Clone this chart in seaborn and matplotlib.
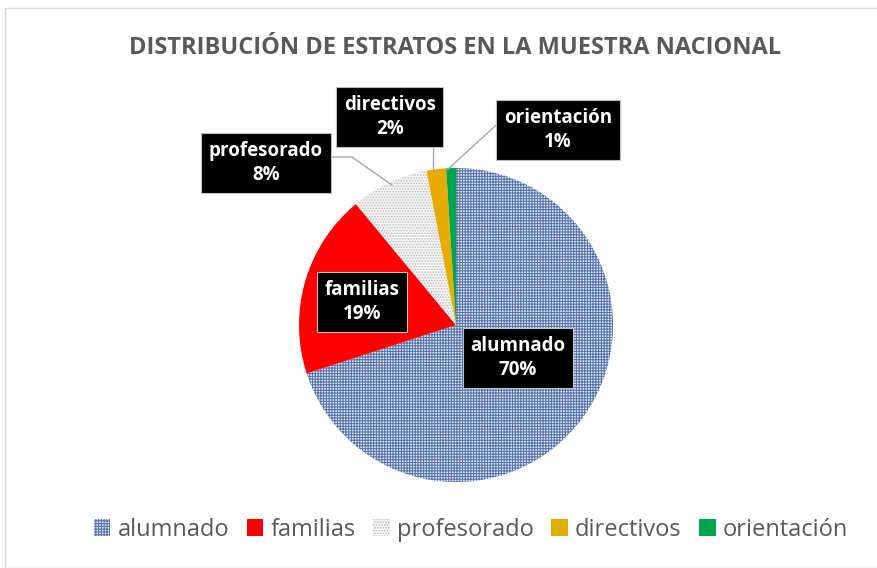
import seaborn as sns
import matplotlib.pyplot as plt
from matplotlib.patches import Rectangle, Patch

sns.set_theme(style="white")
plt.rcParams['font.family'] = ['Open Sans', 'DejaVu Sans']
plt.rcParams['hatch.linewidth'] = 0.75

# datos
estratos = ["alumnado", "familias", "profesorado", "directivos", "orientación"]
porcentajes = [70, 19, 8, 2, 1]

colores = ["#e2e8f4", "#ff0000", "#f4f4f4", "#e6ac00", "#00a550"]
hatches = ["++++++", "", "......", "", ""]
hatch_col = ["#5573ab", "#ff0000", "#bdbdbd", "#e6ac00", "#00a550"]

fig = plt.figure(figsize=(8.78, 5.68), dpi=100)
fig.patch.set_facecolor("white")
# borde del área del gráfico
fig.add_artist(Rectangle((5 / 878, 0.0), 1.0, 1 - 8 / 568, transform=fig.transFigure,
                         fill=False, ec="#d9d9d9", lw=1.0))

# eje del pastel: centro (456, 325) px, radio 157 px
r = 157
cx, cy = 456, 325
ax = fig.add_axes([(cx - r) / 878, (568 - cy - r) / 568, 2 * r / 878, 2 * r / 568])
wedges, _ = ax.pie(porcentajes, startangle=90, counterclock=False, colors=colores,
                   wedgeprops=dict(linewidth=0))
for w, h, hc in zip(wedges, hatches, hatch_col):
    w.set_hatch(h)
    w.set_edgecolor(hc)
ax.set_xlim(-1, 1)
ax.set_ylim(-1, 1)
ax.set_aspect("equal")

# etiquetas (posición en px de la figura)
pos_etq = [(518, 358), (362, 302), (266, 163), (390, 117), (558, 130)]
for nombre, p, (x, y) in zip(estratos, porcentajes, pos_etq):
    fig.text(x / 878, 1 - y / 568, f"{nombre}\n{p}%", ha="center", va="center",
             color="white", fontsize=13.5, fontweight="bold", linespacing=1.3,
             bbox=dict(boxstyle="square,pad=0.4", fc="black", ec="#bfbfbf", lw=0.8))

# líneas guía
lineas = [((330, 157), (352, 157), (392, 185)),
          ((433, 146), (433, 170)),
          ((505, 117), (447, 170))]
for ln in lineas:
    xs = [p[0] / 878 for p in ln]
    ys = [1 - p[1] / 568 for p in ln]
    fig.add_artist(plt.Line2D(xs, ys, transform=fig.transFigure, color="#a6a6a6", lw=1.0))

fig.text(455 / 878, 1 - 48 / 568, "DISTRIBUCIÓN DE ESTRATOS EN LA MUESTRA NACIONAL",
         ha="center", va="center", fontsize=17, fontweight="bold", color="#595959")

handles = [Patch(facecolor=c, hatch=h, edgecolor=hc, lw=0)
           for c, h, hc in zip(colores, hatches, hatch_col)]
fig.legend(handles, estratos, loc="center", bbox_to_anchor=(471 / 878, 1 - 530 / 568),
           ncol=5, frameon=False, fontsize=17, handlelength=0.7, handleheight=0.7,
           handletextpad=0.3, columnspacing=0.75, labelcolor="#595959")

fig.savefig("out.png", dpi=100)
